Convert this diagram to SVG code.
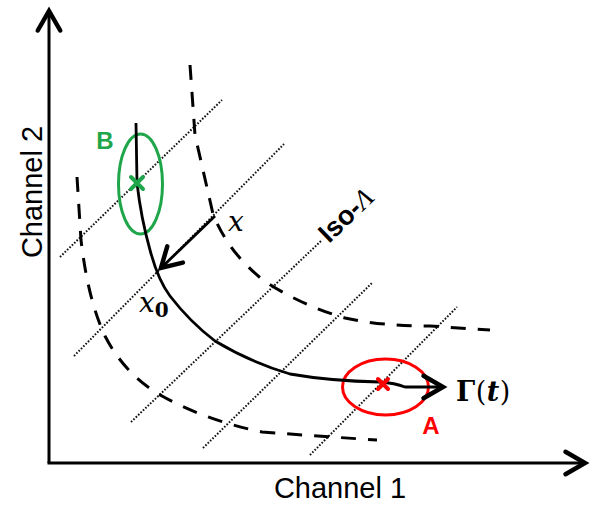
<svg xmlns="http://www.w3.org/2000/svg" width="590" height="508" viewBox="0 0 590 508">
<style>
.ax{fill:none;stroke:#000;stroke-width:3}
.dot{fill:none;stroke:#111;stroke-width:2;stroke-dasharray:1.6 1.7}
.dash{fill:none;stroke:#000;stroke-width:3;stroke-dasharray:15 12}
.traj{fill:none;stroke:#000;stroke-width:2.8;stroke-linejoin:round}
.lbl{font-family:"Liberation Sans",Arial,sans-serif;fill:#000}
.math{font-family:"DejaVu Serif","Liberation Serif",serif;fill:#000}
</style>
<defs>
<marker id="chev" markerUnits="userSpaceOnUse" markerWidth="30" markerHeight="30" refX="0" refY="0" viewBox="-16 -10 20 20" orient="auto" overflow="visible">
<path d="M-13,-7.5 L0,0 L-13,7.5" fill="none" stroke="#000" stroke-width="3" stroke-linecap="round" stroke-linejoin="miter"/>
</marker>
</defs>
<rect width="590" height="508" fill="#fff"/>

<g id="axes">
<path class="ax" d="M49,463 L49,11" marker-end="url(#chev)"/>
<path class="ax" d="M47.5,463 L585,463" marker-end="url(#chev)"/>
<text class="lbl" x="340" y="498" font-size="29" text-anchor="middle">Channel 1</text>
<text class="lbl" x="0" y="0" font-size="29" text-anchor="middle" transform="translate(42,192) rotate(-90)">Channel 2</text>
</g>

<g id="iso-lines">
<path class="dot" d="M60,257 L222,100"/>
<path class="dot" d="M74,356 L284,144"/>
<path class="dot" d="M131,422 L322,240"/>
<path class="dot" d="M203,448 L372,283"/>
<path class="dot" d="M310,455 L457,307"/>
<text class="lbl" font-size="27" font-weight="bold" transform="translate(329,244) rotate(-44)">Iso-<tspan font-family="'Liberation Serif',serif" font-style="italic" font-weight="normal">Λ</tspan></text>
</g>

<g id="level-curves">
<path class="dash" d="M77,177 L81,240 Q88,300 105,336 Q125,375 162,396 Q205,420 262,432 Q330,437 377,440"/>
<path class="dash" d="M190,65 L195,135 L213,214 Q228,252 263,280 Q300,305 345,318 Q380,326 430,326 L490,330"/>
</g>

<g id="node-B">
<ellipse cx="140.5" cy="184" rx="22" ry="50" fill="none" stroke="#1fa64a" stroke-width="3"/>
<text class="lbl" x="105" y="149" font-size="24" font-weight="bold" text-anchor="middle" style="fill:#1fa64a">B</text>
</g>

<g id="node-A">
<ellipse cx="385.5" cy="387" rx="43" ry="28" fill="none" stroke="#ff0000" stroke-width="3"/>
<text class="lbl" x="431" y="434" font-size="24" font-weight="bold" text-anchor="middle" style="fill:#ff0000">A</text>
</g>

<g id="connectors">
<path class="traj" d="M136,123 L137,183 Q141,218 150,250 Q158,280 170,296 Q190,322 215,341 Q250,362 290,374 Q330,381 380,382 Q395,383 405,387 L443,387" marker-end="url(#chev)"/>
<path class="traj" d="M215,216 L161,268" marker-end="url(#chev)"/>
</g>

<g id="crosses">
<path d="M131,177 L143,189 M143,177 L131,189" stroke="#1fa64a" stroke-width="4" stroke-linecap="round"/>
<path d="M378,379 L388,389 M388,379 L378,389" stroke="#ff0000" stroke-width="4" stroke-linecap="round"/>
</g>

<g id="math-labels">
<text class="math" x="228" y="231" font-size="28" font-style="italic">x</text>
<text class="math" x="139" y="312" font-size="28" font-style="italic">x<tspan font-size="20" font-style="normal" font-weight="bold" dy="5">0</tspan></text>
<text class="math" x="456" y="401" font-size="27" letter-spacing="0.5"><tspan font-weight="bold">Γ</tspan>(<tspan font-style="italic" font-weight="bold">t</tspan>)</text>
</g>
</svg>
